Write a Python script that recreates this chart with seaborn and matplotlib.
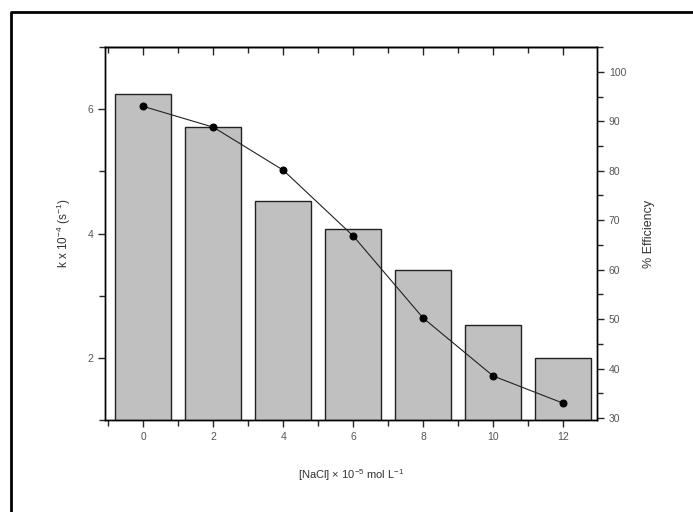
import numpy as np
import pandas as pd
import matplotlib.pyplot as plt
from matplotlib.lines import Line2D
from matplotlib.ticker import MultipleLocator
import seaborn as sns

# values
nacl = [0, 2, 4, 6, 8, 10, 12]
rate_k = [6.25, 5.72, 4.52, 4.08, 3.42, 2.53, 2.0]
efficiency = [93.0, 88.8, 80.1, 66.8, 50.2, 38.5, 33.0]

sns.set_style("ticks")
plt.rcParams['font.family'] = ['Liberation Sans', 'DejaVu Sans']
plt.rcParams['mathtext.fontset'] = 'custom'
plt.rcParams['mathtext.rm'] = 'Liberation Sans'

df = pd.DataFrame({"nacl": nacl, "k": rate_k, "eff": efficiency})

fig = plt.figure(figsize=(6.93, 5.12), dpi=100)
ax = fig.add_axes([0.1515, 0.1797, 0.71, 0.7283])

sns.barplot(data=df, x="nacl", y="k", native_scale=True, width=0.8,
            color="#c0c0c0", saturation=1, edgecolor="#222222", linewidth=1.0, ax=ax)
ax.set_xlim(-1.1, 12.97)
ax.set_ylim(1, 7)
ax.xaxis.set_major_locator(MultipleLocator(2))
ax.xaxis.set_minor_locator(MultipleLocator(1))
ax.yaxis.set_major_locator(MultipleLocator(2))
ax.yaxis.set_minor_locator(MultipleLocator(1))

ax2 = ax.twinx()
sns.lineplot(data=df, x="nacl", y="eff", color="#222222", linewidth=0.8,
             marker="o", markersize=5, markeredgecolor="black",
             markerfacecolor="black", ax=ax2)
ax2.set_ylim(29.6, 105)
ax2.yaxis.set_major_locator(MultipleLocator(10))
ax2.yaxis.set_minor_locator(MultipleLocator(5))

tick_col = "#555555"
for a in (ax, ax2):
    for s in a.spines.values():
        s.set_visible(True)
        s.set_linewidth(1.0)
        s.set_color("black")
ax.tick_params(axis="both", which="both", direction="out", width=1.0,
               labelsize=7.5, labelcolor=tick_col)
ax.tick_params(axis="both", which="major", length=5)
ax.tick_params(axis="both", which="minor", length=4)
ax2.tick_params(axis="y", which="both", direction="out", width=1.0,
                labelsize=7.5, labelcolor=tick_col)
ax2.tick_params(axis="y", which="major", length=5)
ax2.tick_params(axis="y", which="minor", length=4)

# top axis: inward ticks, no labels
top = ax.secondary_xaxis("top")
top.xaxis.set_major_locator(MultipleLocator(2))
top.xaxis.set_minor_locator(MultipleLocator(1))
top.tick_params(axis="x", which="both", direction="in", width=1.0, labeltop=False)
top.tick_params(axis="x", which="major", length=6)
top.tick_params(axis="x", which="minor", length=4)
top.spines["top"].set_linewidth(1.0)

ax.set_xlabel("[NaCl] × 10$^{-5}$ mol L$^{-1}$", fontsize=8, color="#333333", labelpad=18)
ax.set_ylabel("k x 10$^{-4}$ (s$^{-1}$)", fontsize=8.5, color="#333333", labelpad=10)
ax2.set_ylabel("% Efficiency", fontsize=9, color="#333333", labelpad=12)

# frame around the picture (left and top only)
fig.add_artist(Line2D([11 / 693, 11 / 693, 1.0], [0.0, 1 - 12 / 512, 1 - 12 / 512],
                      transform=fig.transFigure, color="black", linewidth=2))

fig.savefig("out.png", dpi=100)
